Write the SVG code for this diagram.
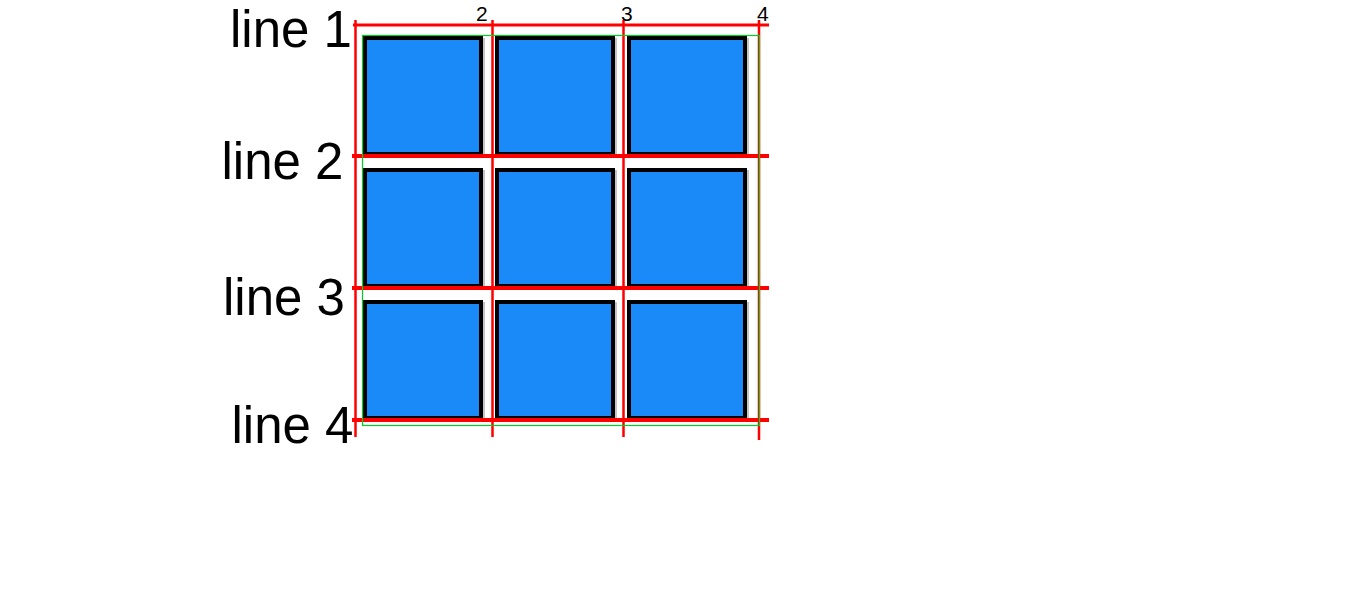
<svg xmlns="http://www.w3.org/2000/svg" width="1360" height="598" viewBox="0 0 1360 598">
  <defs>
    <style>
      .box { fill: #1a8af9; stroke: #000; stroke-width: 4; }
      .shadow { fill: #c4c4c4; }
      .red { stroke: #ff0000; fill: none; }
      .row { stroke-width: 4; }
      .col { stroke-width: 2.5; }
      .lbl { font-family: "Liberation Sans", Arial, sans-serif; font-size: 51px; fill: #000; }
      .num { font-family: "Liberation Sans", Arial, sans-serif; font-size: 21px; fill: #000; }
    </style>
  </defs>
  <rect width="1360" height="598" fill="#fff"/>

  <g id="items">
    <g id="item-1"><rect class="shadow" x="365" y="38" width="120" height="120"/><rect class="box" x="365" y="38" width="116" height="116"/></g>
    <g id="item-2"><rect class="shadow" x="497" y="38" width="120" height="120"/><rect class="box" x="497" y="38" width="116" height="116"/></g>
    <g id="item-3"><rect class="shadow" x="629" y="38" width="120" height="120"/><rect class="box" x="629" y="38" width="116" height="116"/></g>
    <g id="item-4"><rect class="shadow" x="365" y="170" width="120" height="120"/><rect class="box" x="365" y="170" width="116" height="116"/></g>
    <g id="item-5"><rect class="shadow" x="497" y="170" width="120" height="120"/><rect class="box" x="497" y="170" width="116" height="116"/></g>
    <g id="item-6"><rect class="shadow" x="629" y="170" width="120" height="120"/><rect class="box" x="629" y="170" width="116" height="116"/></g>
    <g id="item-7"><rect class="shadow" x="365" y="302" width="120" height="120"/><rect class="box" x="365" y="302" width="116" height="116"/></g>
    <g id="item-8"><rect class="shadow" x="497" y="302" width="120" height="120"/><rect class="box" x="497" y="302" width="116" height="116"/></g>
    <g id="item-9"><rect class="shadow" x="629" y="302" width="120" height="120"/><rect class="box" x="629" y="302" width="116" height="116"/></g>
  </g>

  <g id="grid-lines">
    <line class="red" x1="353" y1="25" x2="769" y2="25" stroke-width="3"/>
    <line class="red row" x1="352" y1="156" x2="769" y2="156"/>
    <line class="red row" x1="352" y1="288" x2="769" y2="288"/>
    <line class="red row" x1="352" y1="420" x2="769" y2="420"/>
    <line class="red col" x1="355.5" y1="20" x2="355.5" y2="437"/>
    <line class="red col" x1="492.5" y1="20" x2="492.5" y2="437"/>
    <line class="red col" x1="623.5" y1="20" x2="623.5" y2="437"/>
    <line class="red col" x1="759" y1="20" x2="759" y2="440"/>
  </g>

  <g id="grid-area">
    <rect x="362.5" y="35.5" width="397" height="390" fill="none" stroke="#00d020" stroke-width="1.2"/>
  </g>

  <g id="labels">
    <text class="lbl" x="230" y="46.5">line 1</text>
    <text class="lbl" x="221.5" y="178.5">line 2</text>
    <text class="lbl" x="223" y="314.5">line 3</text>
    <text class="lbl" x="231.5" y="443">line 4</text>
    <text class="num" x="476" y="21">2</text>
    <text class="num" x="621" y="21">3</text>
    <text class="num" x="757" y="21">4</text>
  </g>
</svg>
